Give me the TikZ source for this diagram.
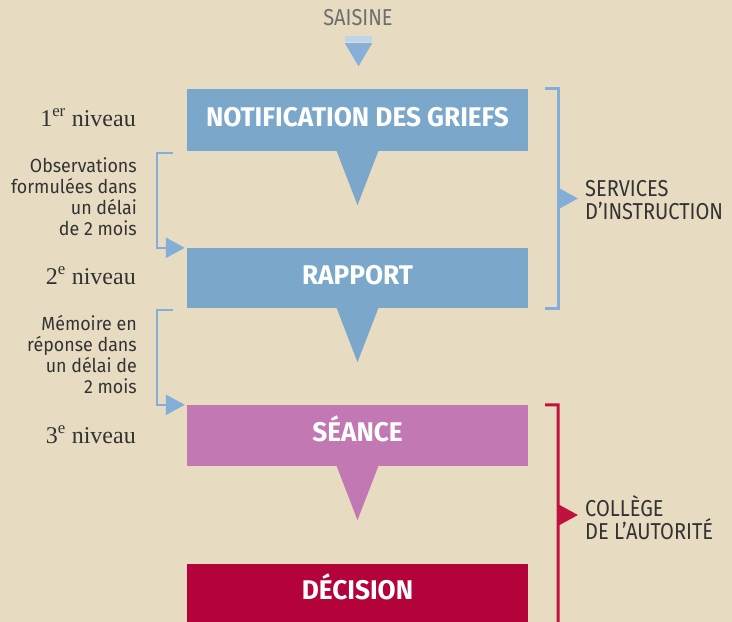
\documentclass[tikz,border=0pt]{standalone}
\usepackage{fontspec}
\setmainfont{Liberation Serif}
\newfontfamily\dinfont[FakeStretch=0.94]{Fira Sans}
\newfontfamily\dinnarrow[FakeStretch=0.87]{Fira Sans}
\newfontfamily\dinbold[FakeStretch=0.97]{Fira Sans}
\usetikzlibrary{calc}
\usetikzlibrary{arrows.meta}
\usetikzlibrary{positioning}
\definecolor{paper}{HTML}{E7DCC2}
\definecolor{instrblue}{HTML}{7BA7CB}
\definecolor{linkblue}{HTML}{83AED7}
\definecolor{seancepink}{HTML}{C278B2}
\definecolor{decisionred}{HTML}{B3033A}
\definecolor{collegered}{HTML}{C0123F}
\definecolor{saisinebar}{HTML}{BDD4EA}
\definecolor{saisinetri}{HTML}{86B0DA}
\definecolor{inktext}{HTML}{333333}
\definecolor{graytext}{HTML}{6E6E6E}
\tikzset{block/.style={rectangle, minimum width=341pt, inner sep=0pt, text=white, text height=19pt, text depth=7pt, font=\fontsize{27}{27}\dinbold\bfseries}}
\tikzset{niveau/.style={inner sep=0pt, text=inktext, font=\fontsize{24}{24}\selectfont}}
\tikzset{delai/.style={inner sep=0pt, align=right, text=inktext, font=\fontsize{19}{21}\dinfont}}
\tikzset{service/.style={inner sep=0pt, align=left, text=inktext, font=\fontsize{23}{23}\dinnarrow}}
\tikzset{bracketl/.style={draw=linkblue, line width=2.5pt, -{Triangle[length=19pt,width=20pt]}}}
\tikzset{bracketr/.style={draw=linkblue, line width=3pt}}
\tikzset{tip/.style={line width=3pt, -{Triangle[length=20pt,width=21pt]}}}

\begin{document}
\begin{tikzpicture}[x=1pt,y=-1pt]

\fill[paper] (0,0) rectangle (732,622);
\useasboundingbox (0,0) rectangle (732,622);

%saisine
\node[inner sep=0pt, text=graytext, font=\fontsize{23}{23}\dinnarrow] (saisine) at (358,18) {SAISINE};
\node[rectangle, fill=saisinebar, minimum width=27pt, minimum height=6pt, inner sep=0pt] (bar) at (358.5,39) {};
\fill[saisinetri] ([yshift=-1pt]bar.south west) -- ([yshift=-1pt]bar.south east) -- ([yshift=-24pt]bar.south) -- cycle;

%blocks
\node[block, fill=instrblue, minimum height=62pt] (notif) at (357.5,120) {NOTIFICATION DES GRIEFS};
\node[block, fill=instrblue, minimum height=60pt] (rapport) at (357.5,278) {RAPPORT};
\node[block, fill=seancepink, minimum height=61pt] (seance) at (357.5,435.5) {SÉANCE};
\node[block, fill=decisionred, minimum height=58pt] (decision) at (357.5,593) {DÉCISION};

%pointers under the blocks
\fill[instrblue] ([xshift=-21pt,yshift=0.5pt]notif.south) -- ([xshift=21pt,yshift=0.5pt]notif.south) -- ([yshift=-54pt]notif.south) -- cycle;
\fill[instrblue] ([xshift=-21pt,yshift=0.5pt]rapport.south) -- ([xshift=21pt,yshift=0.5pt]rapport.south) -- ([yshift=-54pt]rapport.south) -- cycle;
\fill[seancepink] ([xshift=-21pt,yshift=0.5pt]seance.south) -- ([xshift=21pt,yshift=0.5pt]seance.south) -- ([yshift=-54pt]seance.south) -- cycle;

%levels
\node[niveau, anchor=base east] (n1) at (136,126) {1\textsuperscript{er} niveau};
\node[niveau, anchor=base east] (n2) at (136,284) {2\textsuperscript{e} niveau};
\node[niveau, anchor=base east] (n3) at (136,443) {3\textsuperscript{e} niveau};

%delays
\node[delai, anchor=north east] (obs) at (137,157) {Observations\\formulées dans\\un délai\\de 2 mois};
\node[delai, anchor=north east] (memoire) at (137,315) {Mémoire en\\réponse dans\\un délai de\\2 mois};

\path[bracketl] ([xshift=-14pt,yshift=-2pt]notif.south west) -| ([xshift=-30pt]rapport.north west) -- ([xshift=-2pt]rapport.north west);
\path[bracketl] ([xshift=-14pt,yshift=-2pt]rapport.south west) -| ([xshift=-30pt]seance.north west) -- ([xshift=-2pt]seance.north west);

%services d'instruction
\node[service, anchor=west] (services) at (585,200) {SERVICES\\D’INSTRUCTION};
\draw[bracketr] ([xshift=17pt]notif.north east) -- ([xshift=30pt]notif.north east) |- ([xshift=17pt]rapport.south east);
\coordinate (srvmid) at (558,198.5);
\draw[tip, linkblue] (srvmid) -- ([xshift=-7pt]srvmid -| services.west);

%college
\node[service, anchor=west] (college) at (585,518) {COLLÈGE\\DE L’AUTORITÉ};
\coordinate (rbot) at (558,630);
\draw[bracketr, collegered] ([xshift=17pt]seance.north east) -- ([xshift=30pt]seance.north east) -- (rbot);
\coordinate (colmid) at (558,515);
\draw[tip, collegered] (colmid) -- ([xshift=-7pt]colmid -| college.west);

\end{tikzpicture}
\end{document}
